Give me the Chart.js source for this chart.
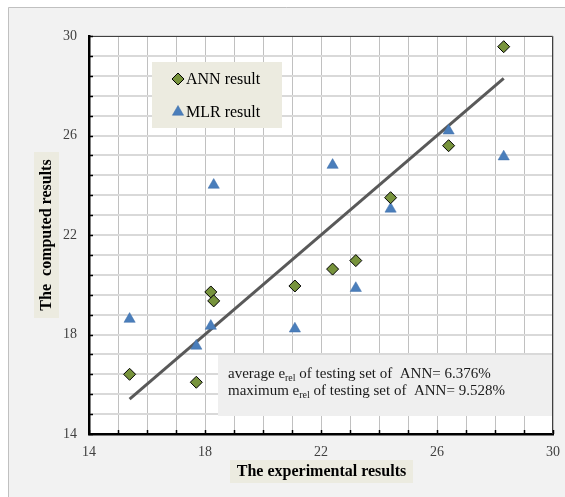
<!DOCTYPE html>
<html>
<head>
<meta charset="utf-8">
<script src="https://cdn.jsdelivr.net/npm/chart.js@4.4.1/dist/chart.umd.min.js"></script>
<style>
  html, body { margin: 0; padding: 0; background: #ffffff; }
  #wrap { width: 565px; height: 497px; position: relative; }
</style>
</head>
<body>
<div id="wrap"><canvas id="chart" width="565" height="497"></canvas></div>
<script>
// experimental values (x) shared by both models
const expResults = [15.4, 17.7, 18.2, 18.3, 21.1, 22.4, 23.2, 24.4, 26.4, 28.3];
const annResults = [16.40, 16.08, 19.71, 19.35, 19.95, 20.63, 20.97, 23.50, 25.59, 29.57];
const mlrResults = [18.62, 17.54, 18.34, 24.01, 18.23, 24.81, 19.86, 23.05, 26.19, 25.15];
// fitted line end points
const fitX = [15.4, 28.3];
const fitY = [15.4, 28.3];
// labelled ticks
const xTickLabels = [14, 18, 22, 26, 30];
const yTickLabels = [14, 18, 22, 26, 30];
const xGridStep = 1;
const yGridStep = 0.8;

const serif = "'Liberation Serif', 'Times New Roman', serif";

const toPoints = (xs, ys) => xs.map((x, i) => ({ x: x, y: ys[i] }));

function buildTicks(min, max, step) {
    const n = Math.round((max - min) / step);
    const out = [];
    for (let i = 0; i <= n; i++) out.push({ value: +(min + i * step).toFixed(4) });
    return out;
}

const isLabelled = (list, v) => list.some(t => Math.abs(t - v) < 1e-6);

// frame, plot background, inner ticks, borders, legend, note box, axis titles
const decorPlugin = {
    id: 'decor',
    beforeDraw(chart) {
        const ctx = chart.ctx;
        const a = chart.chartArea;
        ctx.save();
        ctx.fillStyle = '#ffffff';
        ctx.fillRect(0, 0, chart.width, chart.height);
        ctx.fillStyle = '#f2f2f2';
        ctx.fillRect(8, 7, chart.width, chart.height);
        ctx.strokeStyle = '#c0c0c0';
        ctx.lineWidth = 1;
        ctx.beginPath();
        ctx.moveTo(8.5, chart.height);
        ctx.lineTo(8.5, 7.5);
        ctx.lineTo(chart.width, 7.5);
        ctx.stroke();
        ctx.fillStyle = '#ffffff';
        ctx.fillRect(a.left, a.top, a.right - a.left, a.bottom - a.top);

        // axis titles with their shaded boxes
        ctx.fillStyle = '#ecebe0';
        ctx.fillRect(230, 460, 183, 23);
        ctx.fillRect(34, 152, 25, 166);
        ctx.fillStyle = '#000000';
        ctx.font = 'bold 16px ' + serif;
        ctx.textAlign = 'center';
        ctx.textBaseline = 'middle';
        ctx.fillText('The experimental results', 321.5, 472);
        ctx.translate(47, 235);
        ctx.rotate(-Math.PI / 2);
        ctx.fillText('The  computed results', 0, 0);
        ctx.restore();
    },
    beforeDatasetsDraw(chart) {
        const ctx = chart.ctx;
        const a = chart.chartArea;
        ctx.save();
        // note box
        ctx.fillStyle = '#efefef';
        ctx.fillRect(218, 355, a.right - 218, 61);
        ctx.fillStyle = '#1a1a1a';
        ctx.textBaseline = 'alphabetic';
        ctx.textAlign = 'left';
        const lines = [
            ['average e', 'rel', ' of testing set of  ANN= 6.376%'],
            ['maximum e', 'rel', ' of testing set of  ANN= 9.528%']
        ];
        lines.forEach((parts, i) => {
            const y = 378 + i * 17;
            let x = 228;
            ctx.font = '15px ' + serif;
            ctx.fillText(parts[0], x, y);
            x += ctx.measureText(parts[0]).width;
            ctx.font = '10px ' + serif;
            ctx.fillText(parts[1], x, y + 3);
            x += ctx.measureText(parts[1]).width;
            ctx.font = '15px ' + serif;
            ctx.fillText(parts[2], x, y);
        });

        // legend box
        ctx.fillStyle = '#ecebe0';
        ctx.fillRect(152, 62, 130, 66);
        ctx.restore();
    },
    afterDatasetsDraw(chart) {
        const ctx = chart.ctx;
        const a = chart.chartArea;
        const xs = chart.scales.x, ys = chart.scales.y;
        ctx.save();
        // top and right borders
        ctx.strokeStyle = '#404040';
        ctx.lineWidth = 1;
        ctx.beginPath();
        ctx.moveTo(a.left, a.top + 0.5);
        ctx.lineTo(a.right - 0.5, a.top + 0.5);
        ctx.lineTo(a.right - 0.5, a.bottom);
        ctx.stroke();
        // inner tick marks
        ctx.strokeStyle = '#000000';
        ctx.lineWidth = 1.5;
        ctx.beginPath();
        ys.ticks.forEach(t => {
            const py = Math.round(ys.getPixelForValue(t.value)) + 0.5;
            ctx.moveTo(a.left, py);
            ctx.lineTo(a.left + 4, py);
        });
        xs.ticks.forEach(t => {
            const px = Math.round(xs.getPixelForValue(t.value)) + 0.5;
            ctx.moveTo(px, a.bottom);
            ctx.lineTo(px, a.bottom - 4);
        });
        ctx.stroke();

        // legend entries, styled from the datasets
        const items = chart.data.datasets.filter(d => d.legendText);
        items.forEach((d, i) => {
            const cy = 79 + i * 33;
            ctx.fillStyle = d.backgroundColor;
            ctx.strokeStyle = d.borderColor;
            ctx.lineWidth = d.borderWidth;
            Chart.helpers.drawPoint(ctx, {
                pointStyle: d.pointStyle,
                radius: d.pointRadius,
                borderWidth: d.borderWidth,
                rotation: 0
            }, 178, cy);
            ctx.fillStyle = '#000000';
            ctx.font = '16px ' + serif;
            ctx.textAlign = 'left';
            ctx.textBaseline = 'middle';
            ctx.fillText(d.legendText, 186, cy + 1);
        });
        ctx.restore();
    }
};

new Chart(document.getElementById('chart'), {
    type: 'scatter',
    data: {
        datasets: [
            {
                label: 'ANN result',
                legendText: 'ANN result',
                data: toPoints(expResults, annResults),
                pointStyle: 'rectRot',
                pointRadius: 6,
                backgroundColor: '#77933c',
                borderColor: '#000000',
                borderWidth: 1,
                order: 0
            },
            {
                label: 'MLR result',
                legendText: 'MLR result',
                data: toPoints(expResults, mlrResults),
                pointStyle: 'triangle',
                pointRadius: 6.5,
                backgroundColor: '#4a7ebb',
                borderColor: '#3f6fa8',
                borderWidth: 0.5,
                order: 1
            },
            {
                type: 'line',
                label: 'fit',
                data: toPoints(fitX, fitY),
                borderColor: '#595959',
                borderWidth: 3,
                pointRadius: 0,
                fill: false,
                order: 2
            }
        ]
    },
    options: {
        responsive: false,
        animation: false,
        layout: { padding: { top: 36, right: 12, left: 0, bottom: 0 } },
        plugins: {
            legend: { display: false },
            tooltip: { enabled: false }
        },
        scales: {
            x: {
                type: 'linear',
                min: 14,
                max: 30,
                afterFit: s => { s.height = 63; s.paddingLeft = 0; s.paddingRight = 0; },
                afterBuildTicks: s => { s.ticks = buildTicks(14, 30, xGridStep); },
                grid: { color: '#c0c0c0', lineWidth: 1, drawTicks: false },
                border: { color: '#000000', width: 2.5 },
                ticks: {
                    autoSkip: false,
                    maxRotation: 0,
                    padding: 10,
                    color: '#404040',
                    font: { family: serif, size: 14 },
                    callback: v => isLabelled(xTickLabels, v) ? String(Math.round(v)) : ''
                }
            },
            y: {
                type: 'linear',
                min: 14,
                max: 30,
                afterFit: s => { s.width = 89; s.paddingTop = 0; s.paddingBottom = 0; },
                afterBuildTicks: s => { s.ticks = buildTicks(14, 30, yGridStep); },
                grid: { color: '#d9d9d9', lineWidth: 2, drawTicks: false },
                border: { color: '#000000', width: 2.5 },
                ticks: {
                    autoSkip: false,
                    padding: 12,
                    color: '#404040',
                    font: { family: serif, size: 14 },
                    callback: v => isLabelled(yTickLabels, v) ? String(Math.round(v)) : ''
                }
            }
        }
    },
    plugins: [decorPlugin]
});
</script>
</body>
</html>
